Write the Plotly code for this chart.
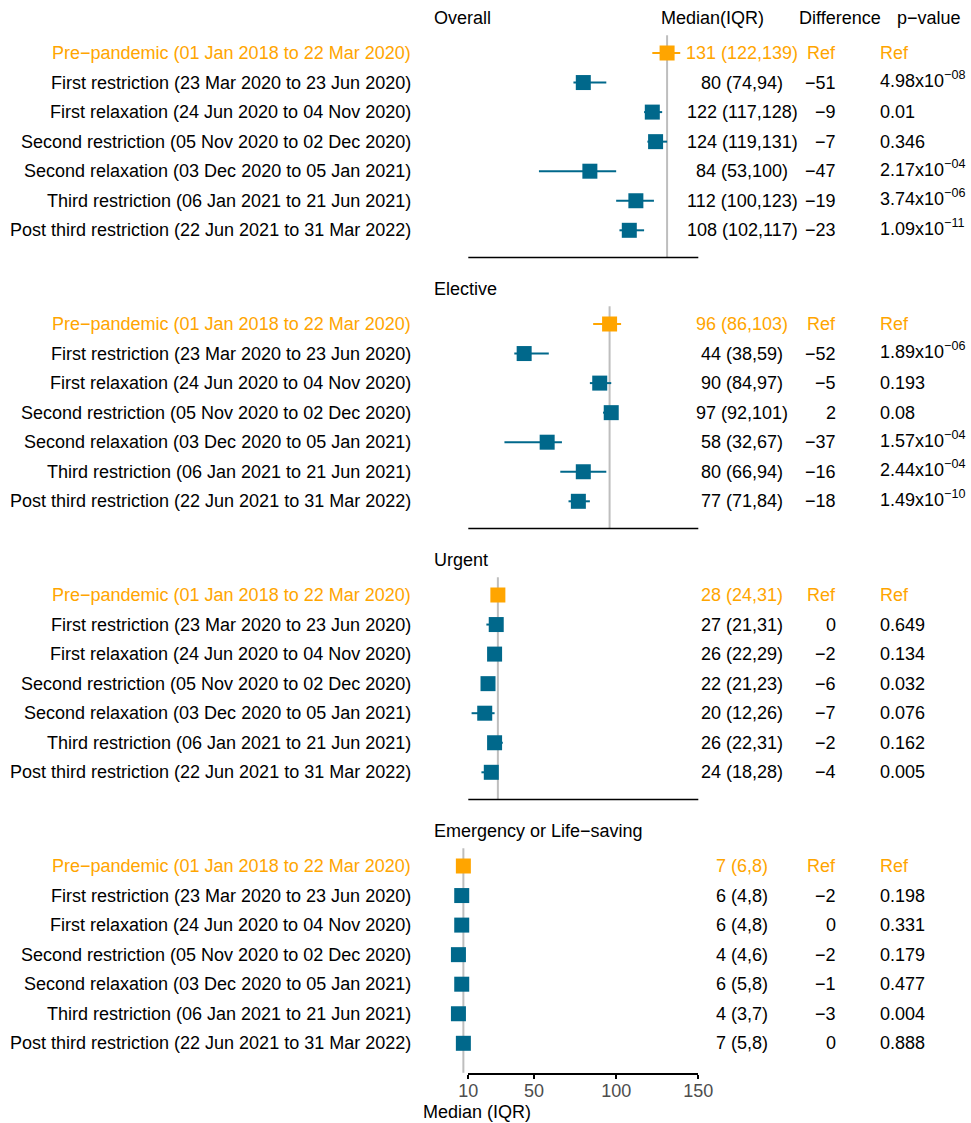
import re
import plotly.graph_objects as go

# ---- data -----------------------------------------------------------------
periods = [
    "Pre−pandemic (01 Jan 2018 to 22 Mar 2020)",
    "First restriction (23 Mar 2020 to 23 Jun 2020)",
    "First relaxation (24 Jun 2020 to 04 Nov 2020)",
    "Second restriction (05 Nov 2020 to 02 Dec 2020)",
    "Second relaxation (03 Dec 2020 to 05 Jan 2021)",
    "Third restriction (06 Jan 2021 to 21 Jun 2021)",
    "Post third restriction (22 Jun 2021 to 31 Mar 2022)",
]

groups = ["Overall", "Elective", "Urgent", "Emergency or Life−saving"]

overall_median = [131, 80, 122, 124, 84, 112, 108]
overall_q1 = [122, 74, 117, 119, 53, 100, 102]
overall_q3 = [139, 94, 128, 131, 100, 123, 117]
overall_diff = [None, -51, -9, -7, -47, -19, -23]
overall_p = ["Ref", "4.98e-08", "0.01", "0.346", "2.17e-04", "3.74e-06", "1.09e-11"]

elective_median = [96, 44, 90, 97, 58, 80, 77]
elective_q1 = [86, 38, 84, 92, 32, 66, 71]
elective_q3 = [103, 59, 97, 101, 67, 94, 84]
elective_diff = [None, -52, -5, 2, -37, -16, -18]
elective_p = ["Ref", "1.89e-06", "0.193", "0.08", "1.57e-04", "2.44e-04", "1.49e-10"]

urgent_median = [28, 27, 26, 22, 20, 26, 24]
urgent_q1 = [24, 21, 22, 21, 12, 22, 18]
urgent_q3 = [31, 31, 29, 23, 26, 31, 28]
urgent_diff = [None, 0, -2, -6, -7, -2, -4]
urgent_p = ["Ref", "0.649", "0.134", "0.032", "0.076", "0.162", "0.005"]

emergency_median = [7, 6, 6, 4, 6, 4, 7]
emergency_q1 = [6, 4, 4, 4, 5, 3, 5]
emergency_q3 = [8, 8, 8, 6, 8, 7, 8]
emergency_diff = [None, -2, 0, -2, -1, -3, 0]
emergency_p = ["Ref", "0.198", "0.331", "0.179", "0.477", "0.004", "0.888"]

axis_ticks = [10, 50, 100, 150]

# ---- styling / layout constants -------------------------------------------
W, H = 971, 1123
FONT = "Liberation Sans, Arial, Helvetica, sans-serif"
FS = 18
TEAL = "#00688B"
ORANGE = "#FFA500"
GREY = "#BEBEBE"
INK = "#000000"

ROW_PX = 29.55          # vertical spacing of rows
FIRST_ROW_PX = 53       # centre of first row of first panel
PANEL_STEP = 271 / ROW_PX
AXIS_Y_PX = 1073        # bottom axis line
X_LO_PX, X_HI_PX = 468.3, 698.3   # pixel span of 10..150
AX_LO, AX_HI = axis_ticks[0], axis_ticks[-1]
PX_PER_UNIT = (X_HI_PX - X_LO_PX) / (AX_HI - AX_LO)
x_range = [AX_LO - X_LO_PX / PX_PER_UNIT, AX_HI + (W - X_HI_PX) / PX_PER_UNIT]
y_range = [(H - FIRST_ROW_PX) / ROW_PX, -FIRST_ROW_PX / ROW_PX]


def px_x(p):
    return p / W


def fmt_p(s):
    m = re.fullmatch(r"([0-9.]+)e-(\d+)", s)
    if m:
        return f"{m.group(1)}x10<sup>−{m.group(2)}</sup>"
    return s


def fmt_diff(d):
    if d is None:
        return "Ref"
    return f"−{abs(d)}" if d < 0 else str(d)


panels = [
    (overall_median, overall_q1, overall_q3, overall_diff, overall_p),
    (elective_median, elective_q1, elective_q3, elective_diff, elective_p),
    (urgent_median, urgent_q1, urgent_q3, urgent_diff, urgent_p),
    (emergency_median, emergency_q1, emergency_q3, emergency_diff, emergency_p),
]

fig = go.Figure()
annotations = []

for k, (med, q1, q3, diff, pv) in enumerate(panels):
    base = k * PANEL_STEP
    rows = [base + i for i in range(len(med))]

    # reference line at the pre-pandemic median
    fig.add_trace(go.Scatter(
        x=[med[0], med[0]], y=[base - 0.6, base + 6.92 + (0.08 if k == 3 else 0)],
        mode="lines", line=dict(color=GREY, width=2), hoverinfo="skip"))

    # panel baseline (bottom panel uses the real x axis instead)
    if k < 3:
        fig.add_trace(go.Scatter(
            x=[AX_LO, AX_HI], y=[base + 6.92, base + 6.92],
            mode="lines", line=dict(color=INK, width=1.5), hoverinfo="skip"))

    # comparison periods
    fig.add_trace(go.Scatter(
        x=med[1:], y=rows[1:], mode="markers",
        marker=dict(symbol="square", size=15, color=TEAL, line=dict(width=0)),
        error_x=dict(type="data", symmetric=False,
                     array=[b - m for m, b in zip(med[1:], q3[1:])],
                     arrayminus=[m - a for m, a in zip(med[1:], q1[1:])],
                     color=TEAL, thickness=2, width=0),
        cliponaxis=False))

    # pre-pandemic reference period
    fig.add_trace(go.Scatter(
        x=med[:1], y=rows[:1], mode="markers",
        marker=dict(symbol="square", size=15, color=ORANGE, line=dict(width=0)),
        error_x=dict(type="data", symmetric=False,
                     array=[q3[0] - med[0]], arrayminus=[med[0] - q1[0]],
                     color=ORANGE, thickness=2, width=0),
        cliponaxis=False))

    # panel header
    annotations.append(dict(text=groups[k], x=px_x(432), y=base - 1.18,
                            xref="paper", yref="y", xanchor="left",
                            yanchor="middle", showarrow=False))
    if k == 0:
        for txt, xp, anc in [("Median(IQR)", 659, "left"),
                             ("Difference", 797, "left"),
                             ("p−value", 963, "right")]:
            annotations.append(dict(text=txt, x=px_x(xp), y=base - 1.18,
                                    xref="paper", yref="y", xanchor=anc,
                                    yanchor="middle", showarrow=False))

    for i in range(len(med)):
        col = ORANGE if i == 0 else INK
        cells = [
            (periods[i], 413, "right"),
            (f"{med[i]} ({q1[i]},{q3[i]})", 742, "center"),
            (fmt_diff(diff[i]), 838, "right"),
            (fmt_p(pv[i]), 878, "left"),
        ]
        for txt, xp, anc in cells:
            has_sup = "<sup>" in txt
            annotations.append(dict(text=txt, x=px_x(xp),
                                    y=rows[i] - (0.1 if has_sup else 0),
                                    xref="paper", yref="y", xanchor=anc,
                                    yanchor="middle", showarrow=False,
                                    font=dict(color=col)))

# axis title
annotations.append(dict(text="Median (IQR)", x=px_x(421), y=1 - 1112 / H,
                        xref="paper", yref="paper", xanchor="left",
                        yanchor="middle", showarrow=False))

# invisible trace that carries the tick axis (x2 on a thin strip y2)
fig.add_trace(go.Scatter(x=[AX_LO, AX_HI], y=[0, 1], xaxis="x2", yaxis="y2",
                         mode="markers", marker=dict(opacity=0),
                         hoverinfo="skip"))

axis_pos = 1 - AXIS_Y_PX / H

fig.update_layout(
    width=W, height=H,
    margin=dict(l=0, r=0, t=0, b=0, autoexpand=False),
    paper_bgcolor="white", plot_bgcolor="rgba(0,0,0,0)",
    showlegend=False,
    font=dict(family=FONT, size=FS, color=INK),
    xaxis=dict(range=x_range, visible=False, domain=[0, 1], fixedrange=True),
    yaxis=dict(range=y_range, visible=False, domain=[0, 1], fixedrange=True),
    yaxis2=dict(range=[0, 1], visible=False, domain=[axis_pos, axis_pos + 0.01],
                anchor="x2", fixedrange=True),
    xaxis2=dict(range=[AX_LO, AX_HI], domain=[px_x(X_LO_PX), px_x(X_HI_PX)],
                anchor="y2", side="bottom", automargin=False,
                showline=True, linecolor=INK, linewidth=1.5,
                ticks="outside", ticklen=4, tickwidth=1.5, tickcolor=INK,
                ticklabelstandoff=-3,
                tickvals=axis_ticks, ticktext=[str(t) for t in axis_ticks],
                tickfont=dict(size=FS, color="#4D4D4D"),
                showgrid=False, zeroline=False, fixedrange=True),
    annotations=annotations,
)

fig.write_html("out.html")
